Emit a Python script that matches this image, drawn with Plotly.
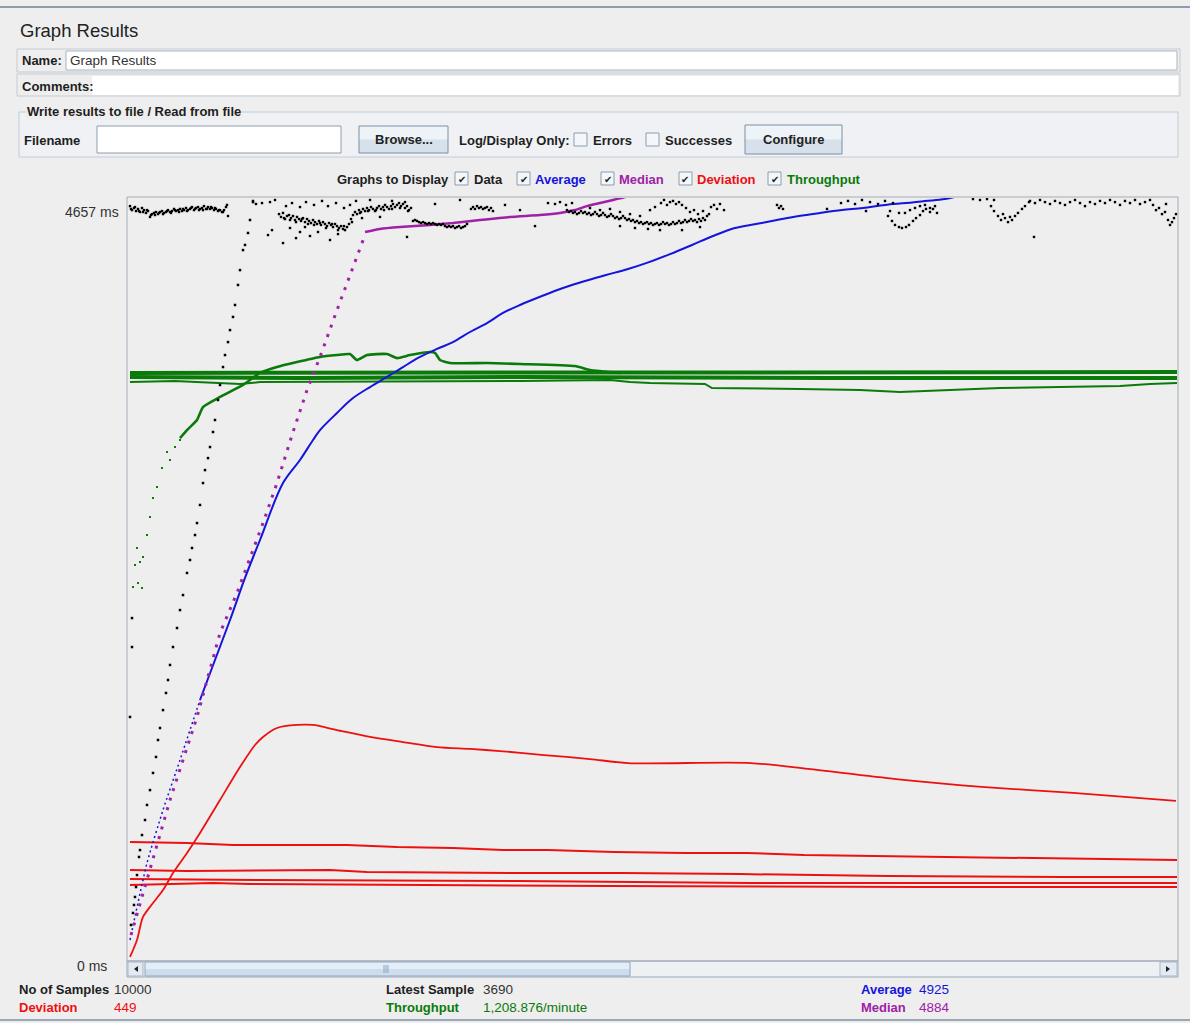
import plotly.graph_objects as go

W, H = 1190, 1023
FONT = "Liberation Sans, Arial, sans-serif"

# ---------------- values ----------------
NO_OF_SAMPLES = 10000
LATEST_SAMPLE = 3690
AVERAGE_MS = 4925
MEDIAN_MS = 4884
DEVIATION_MS = 449
THROUGHPUT_TXT = "1,208.876/minute"
Y_TOP_LABEL_MS = 4657
Y_MAX_MS = 4762.5          # value at the top edge of the graph
X_MAX = 1051               # sample columns visible in the graph

# --- Data (individual samples, ms) : top band ---
DATA_X = [3, 5, 7, 9, 11, 13, 15, 17, 19, 21, 23, 25, 27, 29, 31, 33, 35, 37, 39, 41, 43, 45, 47, 49, 51,
          53, 55, 57, 59, 61, 63, 65, 67, 69, 71, 73, 75, 77, 79, 81, 83, 85, 87, 89, 91, 93, 95, 97, 99, 101,
          4, 8, 12, 16, 20, 24, 28, 32, 36, 40, 44, 48, 52, 56, 60, 64, 68, 72, 76, 80, 84, 88, 92, 96, 100,
          126, 129, 135, 143, 148, 159, 165, 173, 179, 187, 195, 201, 209, 217, 223, 229, 243, 265, 278,
          152, 154, 156, 158, 160, 162, 164, 166, 168, 170, 172, 174, 176, 178, 180, 182, 184, 186, 188, 190,
          192, 194, 196, 198, 200, 202, 204, 206, 208, 210, 212, 214, 216, 218, 220, 222, 224, 226, 228, 230,
          232, 234, 236, 238, 240, 242, 244, 246, 248, 250, 252, 254, 256, 258, 260, 262, 264, 266, 268, 270,
          272, 274, 276, 278, 280, 282, 284,
          141, 145, 156, 163, 169, 173, 178, 183, 191, 203, 211, 225, 235, 253, 280,
          157, 163, 169, 175, 181, 187, 193, 199, 205, 211, 217, 233, 241, 249, 257, 265, 273, 281,
          286, 288, 290, 292, 294, 296, 298, 300, 302, 304, 306, 308, 310, 312, 314, 316, 318, 320, 322, 324,
          326, 328, 330, 332, 334, 336, 338, 340,
          344, 346, 348, 350, 352, 354, 356, 358, 360, 362, 364, 366,
          308, 333, 378, 393, 408, 421,
          428, 433, 439, 445,
          440, 442, 444, 446, 448, 450, 452, 454, 456, 458, 460, 462, 464, 466, 468, 470, 472, 474, 476, 478,
          480, 482, 484, 486, 488, 490, 492, 494, 496, 498, 500, 502, 504, 506, 508, 510, 512, 514, 516, 518,
          520, 522, 524, 526, 528, 530, 532, 534, 536, 538, 540, 542, 544, 546, 548, 550, 552, 554, 556, 558,
          560, 562, 564, 566, 568, 570, 572, 574, 576, 578, 580, 582,
          523, 528, 534, 537, 540, 543, 546, 549, 552, 555, 559, 563, 567, 571, 576, 584, 587, 590, 593, 597,
          463, 473, 483, 493, 503, 513,
          493, 508, 521, 533, 555, 573,
          650, 652, 654, 656,
          700, 714, 721, 728, 735, 739, 743, 751, 758, 763, 766,
          761, 765, 768, 772, 775, 779, 782, 786, 789, 793, 796, 799, 803, 806, 810,
          778, 783, 788, 793, 798, 803, 808, 772,
          846, 853, 860, 867,
          864, 867, 871, 874, 878, 881, 885, 888, 891, 895, 898, 902, 876, 883, 907,
          903, 908, 913, 918, 923, 928, 933, 938, 943, 948, 953, 958, 963, 968, 973, 978, 983, 988, 993, 998,
          1003, 1008, 1013, 1018, 1023,
          1026, 1029, 1032, 1035, 1038, 1041, 1043, 1045, 1047, 1049, 1039]
DATA_Y = [4712, 4687, 4700, 4681, 4694, 4675, 4700, 4687, 4669, 4681, 4644, 4662, 4669, 4675, 4662, 4675,
          4681, 4669, 4675, 4687, 4675, 4681, 4694, 4681, 4687, 4694, 4681, 4687, 4700, 4687, 4694, 4706,
          4687, 4700, 4706, 4694, 4700, 4712, 4694, 4706, 4694, 4700, 4687, 4694, 4681, 4687, 4675, 4687,
          4706, 4650,
          4694, 4706, 4681, 4675, 4687, 4656, 4656, 4669, 4662, 4681, 4669, 4687, 4675, 4694, 4681, 4700,
          4694, 4687, 4687, 4694, 4706, 4700, 4687, 4675, 4719,
          4744, 4725, 4731, 4737, 4750, 4712, 4731, 4706, 4737, 4719, 4744, 4712, 4731, 4700, 4719, 4744,
          4750, 4744, 4737,
          4662, 4644, 4669, 4631, 4650, 4656, 4637, 4650, 4625, 4644, 4631, 4619, 4637, 4612, 4631, 4619,
          4606, 4625, 4612, 4600, 4619, 4594, 4612, 4600, 4587, 4606, 4594, 4581, 4600, 4587, 4575, 4587,
          4569, 4562, 4581, 4600, 4631, 4656, 4675, 4662, 4687, 4675, 4694, 4681, 4700, 4687, 4706, 4694,
          4681, 4700, 4712, 4694, 4706, 4719, 4706, 4694, 4712, 4725, 4706, 4719, 4731, 4712, 4725, 4700,
          4712, 4687, 4700,
          4531, 4562, 4481, 4575, 4512, 4550, 4581, 4525, 4550, 4500, 4537, 4612, 4637, 4644, 4519,
          4637, 4625, 4612, 4631, 4600, 4594, 4606, 4575, 4600, 4562, 4587, 4669, 4681, 4687, 4687, 4694,
          4700, 4681,
          4619, 4625, 4619, 4612, 4606, 4612, 4606, 4600, 4606, 4600, 4606, 4600, 4594, 4600, 4594, 4600,
          4587, 4581, 4587, 4581, 4587, 4575, 4581, 4587, 4575, 4581, 4587, 4600,
          4694, 4706, 4694, 4712, 4700, 4706, 4694, 4700, 4706, 4687, 4700, 4681,
          4725, 4750, 4719, 4687, 4587, 4731,
          4725, 4737, 4719, 4731,
          4687, 4675, 4681, 4669, 4675, 4662, 4669, 4681, 4669, 4675, 4662, 4669, 4656, 4662, 4675, 4662,
          4650, 4656, 4669, 4656, 4644, 4650, 4662, 4650, 4637, 4644, 4631, 4637, 4650, 4637, 4625, 4631,
          4619, 4625, 4612, 4619, 4606, 4612, 4600, 4606, 4612, 4600, 4606, 4594, 4600, 4606, 4594, 4600,
          4612, 4600, 4606, 4594, 4600, 4612, 4600, 4606, 4619, 4606, 4612, 4625, 4612, 4619, 4631, 4619,
          4625, 4612, 4631, 4619, 4637, 4625, 4650, 4662,
          4687, 4706, 4731, 4750, 4719, 4737, 4744, 4725, 4737, 4719, 4700, 4675, 4687, 4662, 4681, 4706,
          4719, 4694, 4725, 4687,
          4700, 4687, 4694, 4675, 4662, 4650,
          4587, 4575, 4569, 4562, 4562, 4581,
          4719, 4700, 4712, 4694,
          4694, 4731, 4744, 4725, 4750, 4681, 4737, 4725, 4744, 4681, 4731,
          4650, 4619, 4594, 4581, 4575, 4581, 4594, 4619, 4637, 4656, 4681, 4694, 4700, 4694, 4669,
          4669, 4687, 4700, 4712, 4719, 4675, 4712, 4669,
          4756, 4750, 4756, 4750,
          4712, 4681, 4650, 4625, 4637, 4612, 4625, 4650, 4669, 4694, 4712, 4737, 4662, 4644, 4519,
          4744, 4731, 4750, 4737, 4725, 4744, 4731, 4719, 4737, 4750, 4731, 4712, 4737, 4725, 4744, 4731,
          4750, 4737, 4719, 4744, 4731, 4750, 4725, 4737, 4750,
          4719, 4687, 4700, 4662, 4675, 4625, 4594, 4612, 4637, 4662, 4725]

# --- Data (individual samples, ms) : first pass ramp and early outliers ---
DATA_RAMP_X = [4, 6, 7, 8, 9, 10, 12, 13, 15, 18, 20, 23, 26, 29, 31, 33, 36, 39, 41, 43, 46, 50, 53, 56,
               60, 63, 65, 68, 70, 73, 76, 78, 81, 83, 86, 88, 91, 93, 96, 98, 101, 103, 106, 108, 111, 113,
               116, 118, 121, 123, 126, 5, 5, 3]
DATA_RAMP_Y = [219, 294, 344, 394, 456, 531, 644, 687, 781, 875, 969, 1062, 1169, 1269, 1375, 1450, 1562,
               1669, 1750, 1844, 1956, 2075, 2187, 2281, 2419, 2500, 2575, 2656, 2731, 2844, 2981, 3062,
               3137, 3206, 3300, 3375, 3500, 3594, 3706, 3781, 3862, 3937, 4019, 4094, 4219, 4312, 4437,
               4469, 4544, 4625, 4737, 2137, 1956, 1519]

# --- Average (ms) ---
AVG_RAMP_X = [3, 20, 36, 53, 73]
AVG_RAMP_Y = [125, 606, 937, 1250, 1625]
AVG_X = [73, 88, 103, 118, 133, 156, 173, 186, 193, 210, 226, 243, 260, 276, 293, 310, 326, 343, 360, 376,
         393, 415, 436, 458, 479, 501, 522, 543, 565, 586, 608, 629, 650, 672, 693, 715, 736, 758, 779, 798,
         818, 840]
AVG_Y = [1625, 1875, 2125, 2388, 2625, 2981, 3125, 3250, 3312, 3419, 3512, 3581, 3644, 3706, 3769, 3819,
         3862, 3925, 3981, 4044, 4094, 4150, 4200, 4244, 4281, 4319, 4362, 4412, 4469, 4525, 4575, 4600,
         4625, 4650, 4669, 4687, 4700, 4719, 4731, 4744, 4756, 4790]

# --- Median (ms) ---
MED_RAMP_X = [4, 23, 43, 70, 93, 110, 126, 136, 150, 166, 180, 193, 210, 226, 233, 238]
MED_RAMP_Y = [156, 562, 1000, 1519, 2044, 2294, 2562, 2731, 2981, 3300, 3562, 3769, 4062, 4331, 4456, 4531]
MED_X = [238, 253, 273, 303, 326, 353, 383, 413, 433, 448, 460, 473, 486, 498, 513]
MED_Y = [4550, 4569, 4581, 4594, 4606, 4625, 4644, 4656, 4669, 4687, 4712, 4731, 4750, 4769, 4787]

# --- Deviation (ms): current pass and earlier passes ---
DEV_X = [3, 10, 16, 26, 36, 46, 60, 73, 93, 113, 128, 136, 150, 170, 186, 210, 243, 276, 310, 343, 373,
         417, 463, 501, 624, 681, 769, 858, 946, 1049]
DEV_Y = [19, 125, 269, 356, 437, 544, 669, 794, 1000, 1206, 1344, 1394, 1450, 1469, 1469, 1437, 1394, 1362,
         1331, 1319, 1306, 1281, 1256, 1231, 1231, 1194, 1131, 1081, 1044, 994]
DEV_P1_X = [3, 60, 106, 220, 270, 326, 376, 421, 487, 558, 620, 677, 747, 822, 893, 954, 1034, 1050]
DEV_P1_Y = [738, 731, 719, 719, 706, 700, 687, 687, 675, 669, 669, 656, 650, 644, 637, 631, 625, 625]
DEV_P2_X = [3, 60, 203, 240, 393, 494, 613, 761, 937, 1050]
DEV_P2_Y = [562, 556, 562, 550, 544, 544, 537, 525, 519, 519]
DEV_P3_X = [3, 133, 391, 624, 1050]
DEV_P3_Y = [506, 500, 494, 481, 481]
DEV_P4_X = [3, 86, 123, 481, 796, 1050]
DEV_P4_Y = [469, 481, 475, 462, 456, 456]

# --- Throughput (plotted on the same scale): current pass and earlier passes ---
THR_DOT_X = [6, 11, 15, 8, 13, 16, 10, 20, 23, 26, 30, 35, 40, 43, 48, 53]
THR_DOT_Y = [2331, 2356, 2325, 2469, 2487, 2519, 2575, 2656, 2769, 2887, 2956, 3075, 3175, 3125, 3206, 3250]
THR_X = [53, 60, 70, 76, 93, 116, 133, 150, 170, 193, 210, 223, 230, 240, 260, 270, 283, 303, 308, 313, 323,
         360, 393, 448, 463, 493]
THR_Y = [3262, 3312, 3375, 3456, 3519, 3594, 3669, 3706, 3737, 3769, 3781, 3787, 3750, 3781, 3787, 3762,
         3781, 3800, 3794, 3750, 3731, 3731, 3725, 3712, 3687, 3669]
THR_P1_X = [3, 273, 593, 773, 1050]
THR_P1_Y = [3669, 3669, 3675, 3669, 3675]
THR_P2_X = [3, 173, 393, 703, 1050]
THR_P2_Y = [3644, 3637, 3644, 3637, 3637]
THR_P3_X = [3, 48, 113, 133, 393, 483, 503, 523, 578, 585, 673, 733, 773, 823, 873, 933, 993, 1023, 1050]
THR_P3_Y = [3612, 3619, 3600, 3612, 3619, 3625, 3612, 3606, 3600, 3575, 3569, 3562, 3550, 3562, 3575, 3581,
            3587, 3600, 3606]

C_DATA = "#000000"
C_AVG = "#1414dc"
C_MED = "#a020a8"
C_DEV = "#ee1010"
C_THR = "#0a7a0a"

fig = go.Figure()


def line(x, y, color, width=2, dash="solid", mode="lines", msize=2, shape="linear", smooth=0.0):
    ln = dict(color=color, width=width, dash=dash, shape=shape)
    if shape == "spline":
        ln["smoothing"] = smooth
    fig.add_trace(go.Scatter(x=x, y=y, mode=mode, line=ln,
                             marker=dict(color=color, size=msize, symbol="square"),
                             hoverinfo="skip", showlegend=False))


# earlier passes first (drawn beneath)
line(THR_P1_X, THR_P1_Y, C_THR, 4)
line(THR_P2_X, THR_P2_Y, C_THR, 4)
line(THR_P3_X, THR_P3_Y, C_THR, 2)
line(DEV_P1_X, DEV_P1_Y, C_DEV, 2)
line(DEV_P2_X, DEV_P2_Y, C_DEV, 2)
line(DEV_P3_X, DEV_P3_Y, C_DEV, 2)
line(DEV_P4_X, DEV_P4_Y, C_DEV, 2)
# current pass
line(DEV_X, DEV_Y, C_DEV, 1.8, shape="spline", smooth=0.8)
line(THR_DOT_X, THR_DOT_Y, C_THR, mode="markers", msize=2)
line(THR_X, THR_Y, C_THR, 2.6, shape="spline", smooth=0.5)
line(AVG_RAMP_X, AVG_RAMP_Y, C_AVG, 1.5, dash="2px,3px", shape="spline", smooth=0.6)
line(AVG_X, AVG_Y, C_AVG, 2, shape="spline", smooth=1.0)
line(MED_RAMP_X, MED_RAMP_Y, C_MED, 3, dash="3px,7px")
line(MED_X, MED_Y, C_MED, 2.5, shape="spline", smooth=0.6)
line(DATA_RAMP_X, DATA_RAMP_Y, C_DATA, mode="markers", msize=2.5)
line(DATA_X, DATA_Y, C_DATA, mode="markers", msize=2.4)

# ---------------- helpers for the surrounding panel ----------------
shapes = []
annots = []


def P(x, y):
    return x / W, 1 - y / H


def rect(x0, y0, x1, y1, fill=None, border=None, lw=1, layer="below"):
    shapes.append(dict(type="rect", xref="paper", yref="paper", x0=x0 / W, x1=x1 / W, y0=1 - y1 / H,
                       y1=1 - y0 / H, fillcolor=fill or "rgba(0,0,0,0)", layer=layer,
                       line=dict(color=border or "rgba(0,0,0,0)", width=lw if border else 0)))


def hline(x0, x1, y, color, lw=1):
    shapes.append(dict(type="line", xref="paper", yref="paper", x0=x0 / W, x1=x1 / W, y0=1 - y / H,
                       y1=1 - y / H, line=dict(color=color, width=lw)))


def tri(points, color):
    path = "M " + " L ".join(f"{x / W},{1 - y / H}" for x, y in points) + " Z"
    shapes.append(dict(type="path", xref="paper", yref="paper", path=path, fillcolor=color,
                       line=dict(width=0)))


def text(x, y, s, color="#1e1e1e", size=13, bold=False, anchor="left", bg=None, family=FONT):
    ax, ay = P(x, y)
    annots.append(dict(x=ax, y=ay, xref="paper", yref="paper", text=f"<b>{s}</b>" if bold else s,
                       showarrow=False, xanchor=anchor, yanchor="middle", borderpad=0,
                       bgcolor=bg or "rgba(0,0,0,0)", font=dict(family=family, size=size, color=color)))


def button(x0, y0, x1, y1, label):
    mid = (y0 + y1) / 2
    rect(x0, y0, x1, mid, fill="#eef3f8")
    rect(x0, mid, x1, y1, fill="#d6e1eb")
    rect(x0, y0, x1, y1, border="#7d8fa3")
    text((x0 + x1) / 2, mid, label, bold=True, anchor="center", color="#222222")


def checkbox(x0, y0, checked):
    rect(x0, y0, x0 + 13, y0 + 13, fill="#f4f7fa", border="#8a9db3")
    if checked:
        text(x0 + 6.5, y0 + 7, "✔", size=10, anchor="center", color="#222222",
             family="DejaVu Sans, sans-serif")


# frame
hline(0, W, 7, "#8b9bb0", 2)
hline(0, W, 1020, "#9aa8b8", 2)

# title and name/comment rows
text(19, 31, "Graph Results", size=18.5, color="#222222")
rect(17, 49, 1180, 72, border="#c3ccd6")
rect(66, 51, 1177, 70, fill="#ffffff", border="#a9b4c0")
text(21, 61, "Name:", bold=True)
text(69, 61, "Graph Results", size=13.5, color="#333333")
rect(17, 74, 1180, 96, border="#c3ccd6")
rect(92, 76, 1178, 95, fill="#ffffff")
text(21, 86, "Comments:", bold=True)

# file group box
rect(19, 112, 1178, 157, fill="#eff1f4", border="#c0ccd8")
text(26, 111, "Write results to file / Read from file", bold=True, bg="#eeeeee")
text(23, 140, "Filename", bold=True)
rect(97, 126, 341, 153, fill="#ffffff", border="#8f9cab")
button(359, 126, 448, 153, "Browse...")
text(458, 140, "Log/Display Only:", bold=True)
checkbox(574, 133, False)
text(592, 140, "Errors", bold=True)
checkbox(646, 133, False)
text(664, 140, "Successes", bold=True)
button(745, 125, 842, 154, "Configure")

# graphs-to-display row
text(336, 179, "Graphs to Display", bold=True)
checkbox(455, 172, True)
text(473, 179, "Data", bold=True)
checkbox(517, 172, True)
text(534, 179, "Average", bold=True, color=C_AVG)
checkbox(601, 172, True)
text(618, 179, "Median", bold=True, color=C_MED)
checkbox(679, 172, True)
text(696, 179, "Deviation", bold=True, color=C_DEV)
checkbox(768, 172, True)
text(786, 179, "Throughput", bold=True, color=C_THR)

# graph border and y labels
rect(127, 197, 1178, 961, border="#a3adb8", layer="above")
text(120, 212, f"{Y_TOP_LABEL_MS} ms", size=14, anchor="right", color="#333333")
text(108, 966, "0 ms", size=14, anchor="right", color="#333333")

# scrollbar
rect(127, 961, 1178, 977, fill="#eef1f4", border="#9aa9b9")
rect(128, 962, 143, 976, fill="#e3eaf1", border="#a9b7c6")
tri([(134, 969), (138, 966), (138, 972)], "#222222")
rect(145, 962, 630, 969, fill="#e4eef8")
rect(145, 969, 630, 976, fill="#cddded")
rect(145, 962, 630, 976, border="#8ea6bf")
for gx in (384, 386, 388):
    shapes.append(dict(type="line", xref="paper", yref="paper", x0=gx / W, x1=gx / W, y0=1 - 973 / H,
                       y1=1 - 965 / H, line=dict(color="#8ea6bf", width=1)))
rect(1160, 962, 1177, 976, fill="#e3eaf1", border="#a9b7c6")
tri([(1170, 969), (1166, 966), (1166, 972)], "#222222")

# statistics
text(18, 989, "No of Samples", bold=True)
text(113, 989, f"{NO_OF_SAMPLES}", size=13.5, color="#333333")
text(18, 1007, "Deviation", bold=True, color=C_DEV)
text(113, 1007, f"{DEVIATION_MS}", size=13.5, color=C_DEV)
text(385, 989, "Latest Sample", bold=True)
text(482, 989, f"{LATEST_SAMPLE}", size=13.5, color="#333333")
text(385, 1007, "Throughput", bold=True, color=C_THR)
text(482, 1007, THROUGHPUT_TXT, size=13.5, color=C_THR)
text(860, 989, "Average", bold=True, color=C_AVG)
text(918, 989, f"{AVERAGE_MS}", size=13.5, color=C_AVG)
text(860, 1007, "Median", bold=True, color=C_MED)
text(918, 1007, f"{MEDIAN_MS}", size=13.5, color=C_MED)

fig.update_layout(
    width=W, height=H, autosize=False,
    margin=dict(l=0, r=0, t=0, b=0, pad=0),
    paper_bgcolor="#eeeeee", plot_bgcolor="#eeeeee",
    font=dict(family=FONT, size=13, color="#1e1e1e"),
    xaxis=dict(range=[0, X_MAX], domain=[127 / W, 1178 / W], visible=False, fixedrange=True),
    yaxis=dict(range=[0, Y_MAX_MS], domain=[63 / H, 825 / H], visible=False, fixedrange=True),
    shapes=shapes, annotations=annots,
)

fig.write_html("out.html", config={"displayModeBar": False, "staticPlot": True},
               post_script="document.body.style.margin='0';document.body.style.overflow='hidden';")
